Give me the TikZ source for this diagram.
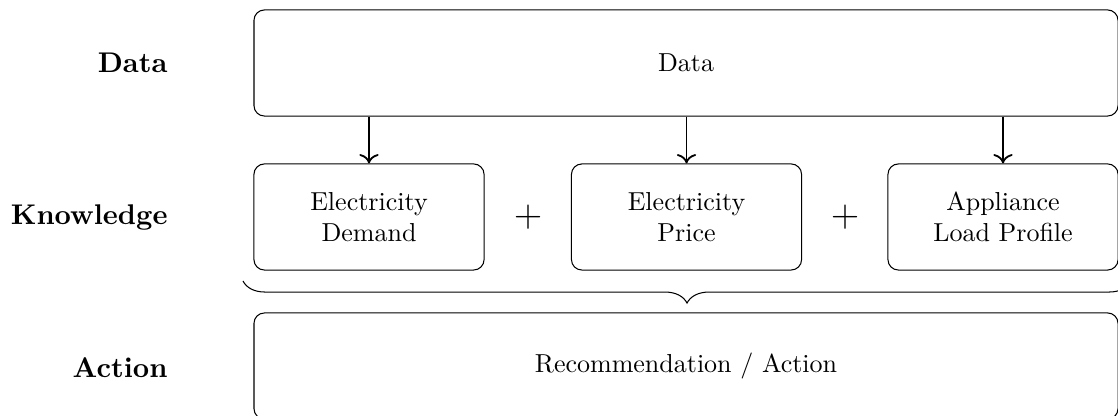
\documentclass[tikz,border=0pt]{standalone}
\usetikzlibrary{decorations.pathreplacing,arrows.meta}
\begin{document}
\begin{tikzpicture}[x=0.3846pt,y=-0.3846pt,
  blockbox/.style={draw, rounded corners=4pt, align=center, inner sep=0pt,
    minimum height=40.8pt},
  widebox/.style={blockbox, minimum width=332.3pt},
  smallbox/.style={blockbox, minimum width=88.5pt},
  rowlabel/.style={anchor=east, font=\fontsize{10.95}{13}\selectfont\bfseries, inner sep=0pt},
  flow/.style={-{To[length=3.6pt,width=7.4pt]}, line width=0.7pt},
  plussign/.style={font=\Large, inner sep=0pt}]
\useasboundingbox (0,0) rectangle (1118,416);

% row labels
\node[rowlabel] (ldata) at (168,63) {Data};
\node[rowlabel] (lknow) at (168,217) {Knowledge};
\node[rowlabel] (lact)  at (168,368) {Action};

% data layer
\node[widebox] (data) at (686,63) {Data};

% knowledge layer
\node[smallbox] (dem)  at (369,217)   {Electricity\\Demand};
\node[smallbox] (pri)  at (686.5,217) {Electricity\\Price};
\node[smallbox] (load) at (1003,217)  {Appliance\\Load Profile};
\node[plussign] (p1) at (528,217) {$+$};
\node[plussign] (p2) at (845,217) {$+$};

% action layer
\node[widebox] (act) at (686,366) {Recommendation / Action};

% data feeds each knowledge block
\draw[flow] (data.south -| dem.north)  -- (dem.north);
\draw[flow] (data.south -| pri.north)  -- (pri.north);
\draw[flow] (data.south -| load.north) -- (load.north);

% brace gathering the knowledge blocks
\coordinate (bl) at (243,281);
\coordinate (br) at (1131,281);
\draw[decorate, decoration={brace, mirror, amplitude=8.5pt}] (bl) -- (br);
\end{tikzpicture}
\end{document}
